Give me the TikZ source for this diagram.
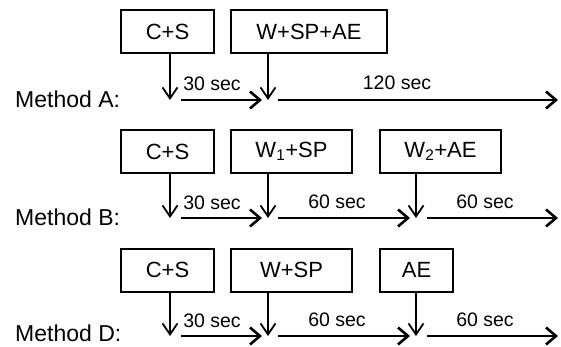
\documentclass[tikz,border=0pt]{standalone}
\usepackage{fontspec}
\setmainfont{Liberation Sans}
\usetikzlibrary{arrows.meta}

\begin{document}
\begin{tikzpicture}[x=1pt,y=-1pt,
  box/.style={draw,line width=2pt,minimum height=43pt,inner sep=0pt,font=\fontsize{22}{24}\selectfont},
  drop/.style={-{Straight Barb[length=11pt,width=15pt,line width=1.8pt]},line width=1.8pt},
  span/.style={-{Straight Barb[length=10pt,width=17pt,line width=2.6pt]},line width=2.8pt},
  lbl/.style={font=\fontsize{19.5}{22}\selectfont,inner sep=0pt},
  meth/.style={anchor=west,font=\fontsize{23}{26}\selectfont,inner sep=0pt}]
  \useasboundingbox (0,0) rectangle (561,347);

  % method A
  \node[meth] (mA) at (15,99) {Method A:};
  \node[box,minimum width=93pt] (csA) at (167.5,32) {C+S};
  \node[box,minimum width=156pt] (wA) at (309,32) {W+SP+AE};
  \coordinate (a1) at (170,100);
  \coordinate (a2) at (268,100);
  \coordinate (aend) at (558,100);
  \draw[drop] (csA.south -| a1) -- (a1);
  \draw[drop] (wA.south -| a2) -- (a2);
  \draw[span] ([xshift=11pt]a1) -- ([xshift=-6pt]a2);
  \draw[span] ([xshift=10pt]a2) -- (aend);
  \node[lbl] (tA1) at (212,84) {30 sec};
  \node[lbl] (tA2) at (397,83) {120 sec};

  % method B
  \node[meth] (mB) at (15,217) {Method B:};
  \node[box,minimum width=93pt] (csB) at (167.5,151.5) {C+S};
  \node[box,minimum width=121pt] (w1B) at (291.5,151.5) {W\textsubscript{1}+SP};
  \node[box,minimum width=121pt] (w2B) at (440.5,151.5) {W\textsubscript{2}+AE};
  \coordinate (b1) at (170,218);
  \coordinate (b2) at (268,218);
  \coordinate (b3) at (416,218);
  \coordinate (bend) at (558,218);
  \draw[drop] (csB.south -| b1) -- (b1);
  \draw[drop] (w1B.south -| b2) -- (b2);
  \draw[drop] (w2B.south -| b3) -- (b3);
  \draw[span] ([xshift=11pt]b1) -- ([xshift=-6pt]b2);
  \draw[span] ([xshift=10pt]b2) -- ([xshift=-6pt]b3);
  \draw[span] ([xshift=11pt]b3) -- (bend);
  \node[lbl] (tB1) at (212,203) {30 sec};
  \node[lbl] (tB2) at (337,202) {60 sec};
  \node[lbl] (tB3) at (485,202) {60 sec};

  % method D
  \node[meth] (mD) at (15,333) {Method D:};
  \node[box,minimum width=93pt] (csD) at (167.5,270) {C+S};
  \node[box,minimum width=121pt] (wD) at (291.5,270) {W+SP};
  \node[box,minimum width=73pt] (aeD) at (416.5,270) {AE};
  \coordinate (d1) at (170,336);
  \coordinate (d2) at (268,336);
  \coordinate (d3) at (416,336);
  \coordinate (dend) at (558,336);
  \draw[drop] (csD.south -| d1) -- (d1);
  \draw[drop] (wD.south -| d2) -- (d2);
  \draw[drop] (aeD.south -| d3) -- (d3);
  \draw[span] ([xshift=11pt]d1) -- ([xshift=-6pt]d2);
  \draw[span] ([xshift=10pt]d2) -- ([xshift=-6pt]d3);
  \draw[span] ([xshift=11pt]d3) -- (dend);
  \node[lbl] (tD1) at (212,321) {30 sec};
  \node[lbl] (tD2) at (337,320) {60 sec};
  \node[lbl] (tD3) at (485,320) {60 sec};
\end{tikzpicture}
\end{document}
